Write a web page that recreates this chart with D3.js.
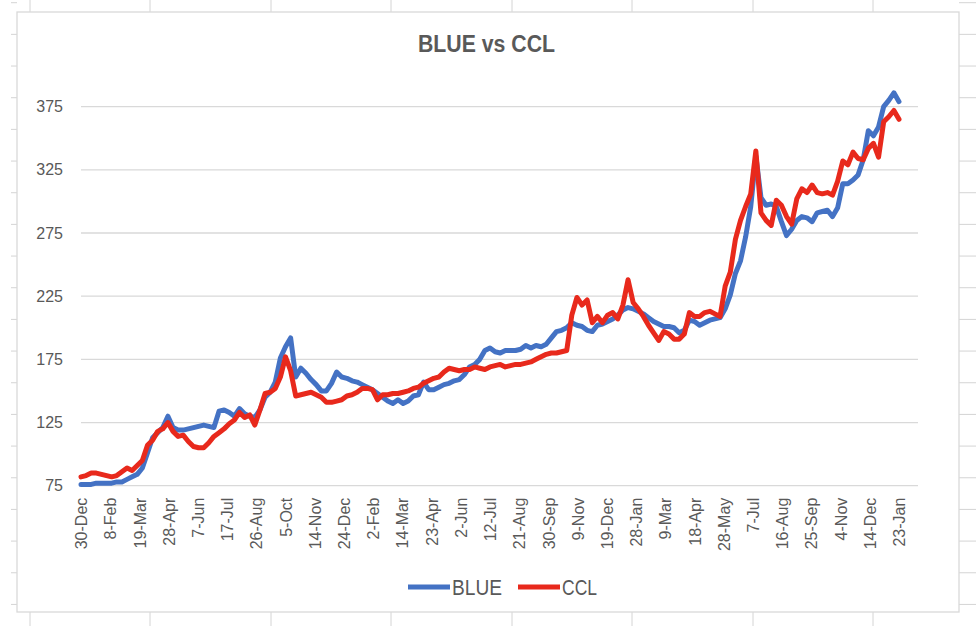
<!DOCTYPE html>
<html>
<head>
<meta charset="utf-8">
<script src="https://cdn.jsdelivr.net/npm/d3@7"></script>
<style>
  body { margin: 0; background: #fff; }
  svg { display: block; }
</style>
</head>
<body>
<div id="chart"></div>
<script>
// weekly readings (Monday) from the picture
var dates = [
  "2019-12-30",
  "2020-01-06","2020-01-13","2020-01-20","2020-01-27","2020-02-03","2020-02-10","2020-02-17","2020-02-24",
  "2020-03-02","2020-03-09","2020-03-16","2020-03-23","2020-03-30","2020-04-06","2020-04-13","2020-04-20","2020-04-27",
  "2020-05-04","2020-05-11","2020-05-18","2020-05-25","2020-06-01","2020-06-08","2020-06-15","2020-06-22","2020-06-29",
  "2020-07-06","2020-07-13","2020-07-20","2020-07-27","2020-08-03","2020-08-10","2020-08-17","2020-08-24","2020-08-31",
  "2020-09-07","2020-09-14","2020-09-21","2020-09-28","2020-10-05","2020-10-12","2020-10-19","2020-10-26",
  "2020-11-02","2020-11-09","2020-11-16","2020-11-23","2020-11-30","2020-12-07","2020-12-14","2020-12-21","2020-12-28",
  "2021-01-04","2021-01-11","2021-01-18","2021-01-25","2021-02-01","2021-02-08","2021-02-15","2021-02-22",
  "2021-03-01","2021-03-08","2021-03-15","2021-03-22","2021-03-29","2021-04-05","2021-04-12","2021-04-19","2021-04-26",
  "2021-05-03","2021-05-10","2021-05-17","2021-05-24","2021-05-31","2021-06-07","2021-06-14","2021-06-21","2021-06-28",
  "2021-07-05","2021-07-12","2021-07-19","2021-07-26","2021-08-02","2021-08-09","2021-08-16","2021-08-23","2021-08-30",
  "2021-09-06","2021-09-13","2021-09-20","2021-09-27","2021-10-04","2021-10-11","2021-10-18","2021-10-25",
  "2021-11-01","2021-11-08","2021-11-15","2021-11-22","2021-11-29","2021-12-06","2021-12-13","2021-12-20","2021-12-27",
  "2022-01-03","2022-01-10","2022-01-17","2022-01-24","2022-01-31","2022-02-07","2022-02-14","2022-02-21","2022-02-28",
  "2022-03-07","2022-03-14","2022-03-21","2022-03-28","2022-04-04","2022-04-11","2022-04-18","2022-04-25",
  "2022-05-02","2022-05-09","2022-05-16","2022-05-23","2022-05-30","2022-06-06","2022-06-13","2022-06-20","2022-06-27",
  "2022-07-04","2022-07-11","2022-07-18","2022-07-25","2022-08-01","2022-08-08","2022-08-15","2022-08-22","2022-08-29",
  "2022-09-05","2022-09-12","2022-09-19","2022-09-26","2022-10-03","2022-10-10","2022-10-17","2022-10-24","2022-10-31",
  "2022-11-07","2022-11-14","2022-11-21","2022-11-28","2022-12-05","2022-12-12","2022-12-19","2022-12-26",
  "2023-01-02","2023-01-09","2023-01-16","2023-01-23"
];

var blue = [
  76, 76, 76, 77, 77, 77, 77, 78, 78,
  80, 82, 84, 89, 101, 113, 117, 121, 130,
  121, 119, 119, 120, 121, 122, 123, 122, 121,
  134, 135, 133, 130, 136, 132, 130, 129, 135,
  145, 149, 157, 176, 185, 192, 161, 168,
  164, 159, 155, 150, 150, 156, 165, 161, 160,
  158, 157, 155, 153, 151, 148, 145, 142,
  140, 143, 140, 142, 146, 147, 157, 151, 151,
  153, 155, 156, 158, 159, 163, 169, 171, 175,
  182, 184, 181, 180, 182, 182, 182, 183, 186,
  184, 186, 185, 187, 192, 197, 198, 200,
  204, 202, 201, 198, 197, 202, 203, 205, 207,
  210, 214, 216, 215, 213, 211, 208, 205, 203,
  201, 201, 200, 196, 198, 206, 205, 202,
  204, 206, 207, 208, 215, 226, 243, 253, 272,
  296, 336, 303, 297, 298, 296, 284, 273, 278,
  285, 288, 287, 284, 291, 292, 293, 288, 295,
  314, 314, 317, 321, 333, 356, 352, 359,
  375, 380, 386, 379
];

var ccl = [
  82, 83, 85, 85, 84, 83, 82, 83, 86,
  89, 87, 91, 95, 107, 111, 118, 120, 125,
  118, 114, 115, 110, 106, 105, 105, 109, 114,
  117, 120, 124, 127, 133, 129, 131, 123, 135,
  148, 149, 152, 161, 177, 166, 146, 147,
  148, 149, 147, 145, 141, 141, 142, 143, 146,
  147, 149, 152, 152, 151, 143, 147, 147,
  148, 148, 149, 150, 152, 153, 156, 158, 160,
  161, 165, 168, 167, 166, 167, 167, 169, 168,
  167, 169, 170, 171, 169, 170, 171, 171, 172,
  173, 175, 177, 179, 180, 180, 181, 182,
  210, 224, 218, 222, 204, 209, 204, 210, 212,
  207, 218, 238, 220, 215, 209, 202, 196, 190,
  197, 195, 191, 191, 195, 212, 209, 209,
  212, 213, 211, 209, 233, 244, 270, 285, 296,
  306, 340, 291, 285, 281, 301, 297, 288, 282,
  302, 310, 307, 313, 307, 306, 307, 305, 316,
  332, 329, 339, 334, 333, 342, 346, 335,
  363, 367, 372, 365
];

var yTicks = [75, 125, 175, 225, 275, 325, 375];

var xTickDates = [
  "2019-12-30","2020-02-08","2020-03-19","2020-04-28","2020-06-07","2020-07-17","2020-08-26","2020-10-05",
  "2020-11-14","2020-12-24","2021-02-02","2021-03-14","2021-04-23","2021-06-02","2021-07-12","2021-08-21",
  "2021-09-30","2021-11-09","2021-12-19","2022-01-28","2022-03-09","2022-04-18","2022-05-28","2022-07-07",
  "2022-08-16","2022-09-25","2022-11-04","2022-12-14","2023-01-23"
];

var seriesNames = ["BLUE", "CCL"];
var seriesColors = ["#4472c4", "#e8291c"];

var width = 980, height = 626;
var textColor = "#595959";
var gridColor = "#d9d9d9";
var font = "'Liberation Sans', Arial, sans-serif";

var svg = d3.select("#chart").append("svg")
  .attr("width", width)
  .attr("height", height)
  .style("font-family", font);

// spreadsheet cell stubs behind the chart
var colX = [30, 150, 271, 391, 512, 632, 753, 873];
var rowY = d3.range(0, 20).map(function(i){ return 2.7 + i * 31.67; });
var bg = svg.append("g").attr("stroke", "#d4d4d4").attr("stroke-width", 1);
colX.forEach(function(cx){
  bg.append("line").attr("x1", cx).attr("x2", cx).attr("y1", 0).attr("y2", 12);
  bg.append("line").attr("x1", cx).attr("x2", cx).attr("y1", 612).attr("y2", height);
});
rowY.forEach(function(ry){
  bg.append("line").attr("x1", 11).attr("x2", 17).attr("y1", ry).attr("y2", ry);
  bg.append("line").attr("x1", 959).attr("x2", 976).attr("y1", ry).attr("y2", ry);
});

// chart frame
svg.append("rect")
  .attr("x", 17).attr("y", 12)
  .attr("width", 942).attr("height", 600)
  .attr("fill", "#fff")
  .attr("stroke", gridColor)
  .attr("stroke-width", 1.3);

var parse = d3.utcParse("%Y-%m-%d");

var x = d3.scaleUtc()
  .domain([parse("2019-12-30"), parse("2023-02-18")])
  .range([81, 918]);

var y = d3.scaleLinear()
  .domain([75, 400])
  .range([485.7, 75.1]);

// gridlines
svg.append("g")
  .selectAll("line")
  .data(yTicks)
  .enter().append("line")
  .attr("x1", 81).attr("x2", 918)
  .attr("y1", function(d){ return y(d); })
  .attr("y2", function(d){ return y(d); })
  .attr("stroke", gridColor)
  .attr("stroke-width", 1.3);

// y axis labels
var yAxis = svg.append("g")
  .attr("transform", "translate(81,0)")
  .call(d3.axisLeft(y).tickValues(yTicks).tickSize(0).tickPadding(18));
yAxis.select(".domain").remove();
yAxis.selectAll("text")
  .attr("fill", textColor)
  .style("font-size", "16px")
  .style("font-family", font);

// x axis labels
var xAxis = svg.append("g")
  .attr("transform", "translate(0," + y(75) + ")")
  .call(d3.axisBottom(x)
    .tickValues(xTickDates.map(parse))
    .tickSize(0)
    .tickFormat(d3.utcFormat("%-d-%b")));
xAxis.select(".domain").remove();
xAxis.selectAll("text")
  .attr("fill", textColor)
  .style("font-size", "16px")
  .style("font-family", font)
  .attr("text-anchor", "end")
  .attr("transform", "rotate(-90)")
  .attr("x", -12)
  .attr("y", 0)
  .attr("dy", "0.35em");

// lines
var line = d3.line()
  .x(function(d){ return x(d.date); })
  .y(function(d){ return y(d.value); });

[blue, ccl].forEach(function(vals, i){
  var pts = vals.map(function(v, j){ return { date: parse(dates[j]), value: v }; });
  svg.append("path")
    .datum(pts)
    .attr("fill", "none")
    .attr("stroke", seriesColors[i])
    .attr("stroke-width", 5)
    .attr("stroke-linejoin", "round")
    .attr("stroke-linecap", "round")
    .attr("d", line);
});

// title (narrowed to match the condensed original face)
svg.append("text")
  .attr("x", 418)
  .attr("y", 52)
  .attr("textLength", 137)
  .attr("lengthAdjust", "spacingAndGlyphs")
  .attr("fill", textColor)
  .style("font-weight", "bold")
  .style("font-size", "23px")
  .text("BLUE vs CCL");

// legend
var legendX = [408, 518];
var legendW = [50, 35];
var legend = svg.append("g");
seriesNames.forEach(function(name, i){
  legend.append("line")
    .attr("x1", legendX[i]).attr("x2", legendX[i] + 42)
    .attr("y1", 587).attr("y2", 587)
    .attr("stroke", seriesColors[i])
    .attr("stroke-width", 5);
  legend.append("text")
    .attr("x", legendX[i] + 44)
    .attr("y", 595)
    .attr("textLength", legendW[i])
    .attr("lengthAdjust", "spacingAndGlyphs")
    .attr("fill", textColor)
    .style("font-size", "22px")
    .text(name);
});
</script>
</body>
</html>
